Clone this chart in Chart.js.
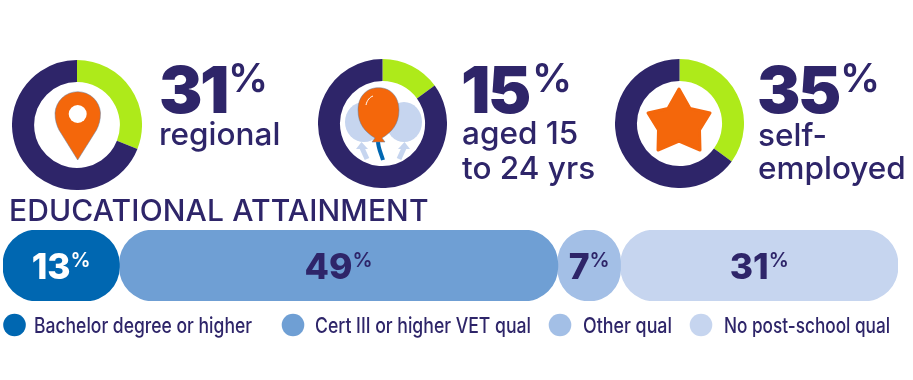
<!DOCTYPE html>
<html>
<head>
<meta charset="utf-8">
<title>Educational attainment</title>
<script src="https://cdn.jsdelivr.net/npm/chart.js@4"></script>
<style>
    html, body { margin: 0; padding: 0; background: #fff; }
    #page { position: relative; width: 913px; height: 380px; overflow: hidden; }
    #page canvas { position: absolute; }
    #overlay { position: absolute; left: 0; top: 0; }
    #overlay text { font-family: Inter, sans-serif; fill: #2e2569; }
    .big { font-size: 65px; font-weight: 900; letter-spacing: -2.5px; }
    .pct { font-size: 40px; font-weight: 600; }
    .lab { font-size: 31.5px; font-weight: 500; }
    .title { font-size: 30px; font-weight: 500; letter-spacing: 0.13px; }
    .leg { font-size: 21px; font-weight: 500; }
</style>
</head>
<body>
<div id="page">
    <canvas id="donut0"></canvas>
    <canvas id="donut1"></canvas>
    <canvas id="donut2"></canvas>
    <canvas id="eduBar"></canvas>
    <svg id="overlay" width="913" height="380" xmlns="http://www.w3.org/2000/svg">
        <!-- pin -->
        <path d="M77.7 160 L59 130 C56.5 125 55 120 55 113 A22.8 22.8 0 0 1 100.5 113 C100.5 120 99 125 96.5 130 Z" fill="#f4670b" stroke="#5d7fa8" stroke-width="0.5"/>
        <circle cx="77.7" cy="114" r="9" fill="#fff"/>
        <!-- balloons -->
        <g fill="#c6d5ef">
            <ellipse cx="364" cy="122" rx="19" ry="20"/>
            <ellipse cx="404" cy="122" rx="18" ry="20"/>
            <path d="M356 149 L361.5 142 L368 149 Z"/>
            <path d="M398 149 L404.5 142 L410 149 Z"/>
        </g>
        <g fill="none" stroke="#c6d5ef" stroke-width="5">
            <path d="M362 148 L367 159"/>
            <path d="M404 148 L399 159"/>
        </g>
        <path d="M378 141 C378 148 381 153 383 160" fill="none" stroke="#0067b1" stroke-width="4"/>
        <path d="M378.5 87.7 C392 87.7 399 98 399 110 C399 124 392 132 382 138 L385 142 L372 142 L375 138 C365 132 358 124 358 110 C358 98 365 87.7 378.5 87.7 Z" fill="#f4670b" stroke="#5d7fa8" stroke-width="0.5"/>
        <path d="M366 105 C367 100 370 97 373 96" fill="none" stroke="#fff" stroke-width="1"/>
        <!-- star -->
        <path d="M679 89 L690 108.5 L710 113 L699.5 130 L700 150 L679 141 L658 150 L658.5 130 L648 113 L668 108.5 Z" fill="#f4670b" stroke="#f4670b" stroke-width="3" stroke-linejoin="round"/>
    </svg>
</div>
<script>
// Stat donuts
var statValues = [31, 15, 35];
var statLabels = [['regional'], ['aged 15', 'to 24 yrs'], ['self-', 'employed']];

// Educational attainment
var eduTitle = 'EDUCATIONAL ATTAINMENT';
var eduLabels = ['Bachelor degree or higher', 'Cert III or higher VET qual', 'Other qual', 'No post-school qual'];
var eduValues = [13, 49, 7, 31];
var eduColours = ['#0067b1', '#6f9fd4', '#a3bfe6', '#c6d5ef'];
var eduTextColours = ['#ffffff', '#2e2569', '#2e2569', '#2e2569'];

var navy = '#2e2569';
var green = '#aeea1a';

// layout, in page pixels
var donutBoxes = [
    { left: 12, top: 60, size: 130 },
    { left: 318, top: 59, size: 129 },
    { left: 615, top: 59, size: 129 }
];
var statX = [159, 461, 757];
var statPctX = [228, 532, 840];
var labelX = [159, 462, 758];
var statBaselines = [[145], [144, 179], [146, 179]];
var legendDotX = [14.5, 293, 560, 701];
var legendTextX = [34, 315, 583, 724];
var legendTextWidth = [218, 216, 89, 166];

Chart.defaults.animation = false;

function placeCanvas(canvas, left, top, width, height) {
    canvas.width = width;
    canvas.height = height;
    canvas.style.left = left + 'px';
    canvas.style.top = top + 'px';
    canvas.style.width = width + 'px';
    canvas.style.height = height + 'px';
}

// Draw the three donuts
statValues.forEach(function (value, i) {
    var box = donutBoxes[i];
    var canvas = document.getElementById('donut' + i);
    placeCanvas(canvas, box.left, box.top, box.size, box.size);
    new Chart(canvas.getContext('2d'), {
        type: 'doughnut',
        data: {
            labels: [statLabels[i].join(' '), 'Other'],
            datasets: [{
                data: [value, 100 - value],
                backgroundColor: [green, navy],
                borderWidth: 0
            }]
        },
        options: {
            responsive: false,
            cutout: '66%',
            plugins: { legend: { display: false }, tooltip: { enabled: false } }
        }
    });
});

// Each segment is a floating bar so every one of them keeps its rounded ends
var running = 0;
var eduDatasets = eduValues.map(function (value, i) {
    var range = [running, running + value];
    running += value;
    return {
        label: eduLabels[i],
        data: [range],
        backgroundColor: eduColours[i],
        borderWidth: 0,
        borderSkipped: false,
        borderRadius: 34,
        grouped: false,
        barPercentage: 1,
        categoryPercentage: 1
    };
});

// Value labels centred in the bars, with a small raised percent sign
var barLabels = {
    id: 'barLabels',
    afterDatasetsDraw: function (chart) {
        var ctx = chart.ctx;
        ctx.save();
        ctx.textBaseline = 'alphabetic';
        eduValues.forEach(function (value, i) {
            var bar = chart.getDatasetMeta(i).data[0];
            var num = String(value);
            ctx.font = '800 35.5px Inter, sans-serif';
            var numWidth = ctx.measureText(num).width;
            ctx.font = '600 20px Inter, sans-serif';
            var pctWidth = ctx.measureText('%').width;
            var start = (bar.x + bar.base) / 2 - (numWidth + pctWidth) / 2;
            ctx.fillStyle = eduTextColours[i];
            ctx.font = '800 35.5px Inter, sans-serif';
            ctx.fillText(num, start, 49);
            ctx.font = '600 20px Inter, sans-serif';
            ctx.fillText('%', start + numWidth, 37);
        });
        ctx.restore();
    }
};

var barCanvas = document.getElementById('eduBar');
placeCanvas(barCanvas, 3, 230, 895, 71);
new Chart(barCanvas.getContext('2d'), {
    type: 'bar',
    data: { labels: [eduTitle], datasets: eduDatasets },
    options: {
        indexAxis: 'y',
        responsive: false,
        layout: { padding: 0 },
        scales: {
            x: { min: 0, max: 100, display: false },
            y: { display: false }
        },
        plugins: { legend: { display: false }, tooltip: { enabled: false } }
    },
    plugins: [barLabels]
});

// Text and legend
var overlay = document.getElementById('overlay');
function addSvg(tag, attrs, text) {
    var el = document.createElementNS('http://www.w3.org/2000/svg', tag);
    Object.keys(attrs).forEach(function (k) { el.setAttribute(k, attrs[k]); });
    if (text !== undefined) el.textContent = text;
    overlay.appendChild(el);
}

statValues.forEach(function (value, i) {
    addSvg('text', { x: statX[i], y: 113, 'class': 'big' }, value);
    addSvg('text', { x: statPctX[i], y: 92, 'class': 'pct' }, '%');
    statLabels[i].forEach(function (line, j) {
        addSvg('text', { x: labelX[i], y: statBaselines[i][j], 'class': 'lab' }, line);
    });
});

addSvg('text', { x: 9, y: 221, 'class': 'title' }, eduTitle);

eduLabels.forEach(function (label, i) {
    addSvg('circle', { cx: legendDotX[i], cy: 325, r: 11.3, fill: eduColours[i] });
    addSvg('text', {
        x: legendTextX[i], y: 333, 'class': 'leg',
        textLength: legendTextWidth[i], lengthAdjust: 'spacingAndGlyphs'
    }, label);
});
</script>
</body>
</html>
